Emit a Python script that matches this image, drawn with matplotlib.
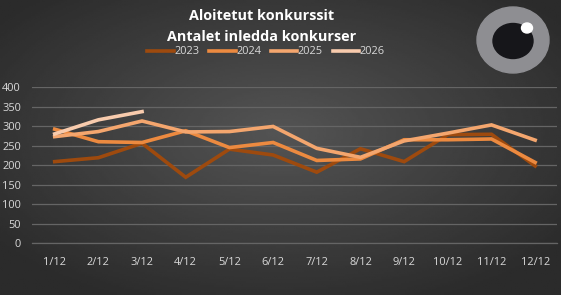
import numpy as np
import matplotlib
matplotlib.use("Agg")
import matplotlib.pyplot as plt
from matplotlib.patches import Ellipse

plt.rcParams["font.family"] = ["Open Sans", "DejaVu Sans"]

# === Data ===
months = ["1/12", "2/12", "3/12", "4/12", "5/12", "6/12",
          "7/12", "8/12", "9/12", "10/12", "11/12", "12/12"]
y2023 = [209, 219, 256, 169, 241, 226, 182, 242, 209, 278, 279, 198]
y2024 = [292, 260, 258, 288, 245, 258, 212, 216, 265, 265, 267, 207]
y2025 = [273, 286, 313, 285, 286, 299, 243, 220, 262, 282, 303, 264]
y2026 = [280, 316, 337]
yticks = [0, 50, 100, 150, 200, 250, 300, 350, 400]

series = [("2023", y2023, "#9e4a0e"),
          ("2024", y2024, "#ec8a40"),
          ("2025", y2025, "#f4a66e"),
          ("2026", y2026, "#f8cbad")]

W, H = 561, 295
fig = plt.figure(figsize=(W / 100, H / 100), dpi=100)

# === Background: radial gradient ===
bg = fig.add_axes([0, 0, 1, 1])
gx, gy = np.meshgrid(np.linspace(0, 1, 300), np.linspace(0, 1, 160))
r = np.sqrt(((gx - 0.5) / 0.75) ** 2 + ((gy - 0.45) / 0.75) ** 2)
shade = np.clip(0.33 - 0.19 * r, 0.17, 0.33)
bg.imshow(shade, cmap="gray", vmin=0, vmax=1, extent=[0, 1, 0, 1],
          aspect="auto", origin="upper")
bg.set_axis_off()

# === Main chart ===
left, right = 32 / W, 557 / W
bottom, top = (H - 243.3) / H, (H - 87) / H
ax = fig.add_axes([left, bottom, right - left, top - bottom])
ax.patch.set_alpha(0)
x = np.arange(len(months))
for name, vals, col in series:
    ax.plot(x[:len(vals)], vals, color=col, lw=2.6, label=name,
            solid_joinstyle="miter", zorder=3)

ax.set_xlim(-0.52, 11.5)
ax.set_ylim(0, 400)
ax.set_yticks(yticks)
ax.set_xticks(x)
ax.set_xticklabels(months)
ax.grid(axis="y", color="#656565", lw=0.9)
ax.set_axisbelow(True)
for s in ["top", "right", "left"]:
    ax.spines[s].set_visible(False)
ax.spines["bottom"].set_color("#656565")
ax.spines["bottom"].set_linewidth(0.9)
ax.tick_params(axis="both", length=0, colors="#d9d9d9", labelsize=7.9)
ax.tick_params(axis="y", pad=8)
ax.tick_params(axis="x", pad=10)

# === Title ===
fig.text(262 / W, 1 - 16 / H, "Aloitetut konkurssit", color="white",
         fontsize=10.4, fontweight="bold", ha="center", va="center")
fig.text(262 / W, 1 - 37 / H, "Antalet inledda konkurser", color="white",
         fontsize=10.4, fontweight="bold", ha="center", va="center")

# === Legend ===
leg = fig.legend(loc="center", bbox_to_anchor=(266 / W, 1 - 52 / H), ncol=4,
                 frameon=False, fontsize=7.9, handlelength=2.4,
                 handletextpad=0.05, columnspacing=0.9, labelcolor="#d9d9d9")

# === Eye logo ===
logo = fig.add_axes([0, 0, 1, 1])
logo.set_xlim(0, W)
logo.set_ylim(H, 0)
logo.set_axis_off()
logo.add_patch(Ellipse((513, 40), 72, 66, color="#8e8e92"))
logo.add_patch(Ellipse((513, 41), 40, 35, color="#16161a"))
logo.add_patch(Ellipse((527, 28), 11, 10, color="white"))

fig.savefig("out.png", dpi=100)
